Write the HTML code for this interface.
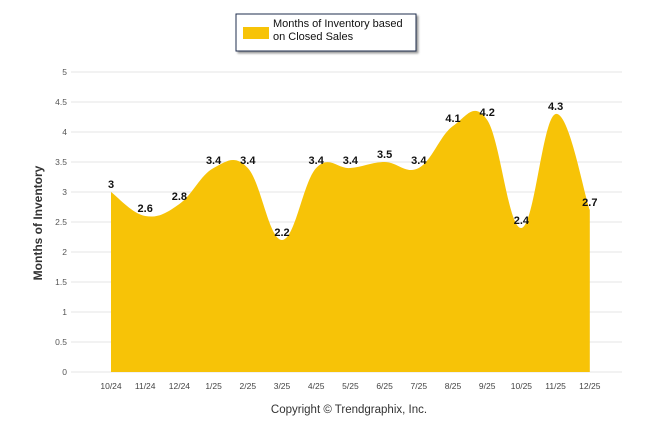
<!DOCTYPE html>
<html><head><meta charset="utf-8"><style>
body{margin:0;background:#fff;font-family:"Liberation Sans",Arial,sans-serif}
svg text{font-family:"Liberation Sans",Arial,sans-serif}
</style></head><body>
<svg id="c" width="646" height="434">
<rect x="236" y="14" width="180" height="37" fill="#fff" stroke="#1f2d4d" stroke-width="1" style="filter:drop-shadow(2px 2px 1px #999)"/>
<rect x="243" y="27" width="26" height="12" fill="#f7c307"/>
<text x="273" y="27" font-size="11" fill="#111">Months of Inventory based</text>
<text x="273" y="40" font-size="11" fill="#111">on Closed Sales</text>
<g id="grid"></g>
<path id="area" fill="#f7c307"/>
<g id="labels"></g>
<text transform="translate(42,223) rotate(-90)" text-anchor="middle" font-size="12" font-weight="bold" fill="#333">Months of Inventory</text>
<text x="349" y="413" text-anchor="middle" font-size="11.5" fill="#333">Copyright © Trendgraphix, Inc.</text>
</svg>
<script>
const categories=["10/24","11/24","12/24","1/25","2/25","3/25","4/25","5/25","6/25","7/25","8/25","9/25","10/25","11/25","12/25"];
const values=[3,2.6,2.8,3.4,3.4,2.2,3.4,3.4,3.5,3.4,4.1,4.2,2.4,4.3,2.7];
const yTicks=[0,0.5,1,1.5,2,2.5,3,3.5,4,4.5,5];
const NS="http://www.w3.org/2000/svg";
const x=i=>111+i*34.2, y=v=>372-v*60;
const grid=document.getElementById('grid'), lab=document.getElementById('labels');
function mk(t,a,p){const e=document.createElementNS(NS,t);for(const k in a)e.setAttribute(k,a[k]);p.appendChild(e);return e;}
yTicks.forEach(v=>{
 const l=mk('line',{x1:71,x2:622,y1:y(v),y2:y(v),stroke:'#e6e6e6'},grid);
 
 
 const t=mk('text',{x:67,y:y(v)+3,'text-anchor':'end','font-size':8.5,fill:'#555'},grid);t.textContent=v;
 
 
});
categories.forEach((c,i)=>{
 const t=mk('text',{x:x(i),y:389,'text-anchor':'middle','font-size':8.5,fill:'#444'},grid);t.textContent=c;
 
 
});
const P=values.map((v,i)=>[x(i),y(v)]);
let d=`M${P[0][0]},${y(0)} L${P[0][0]},${P[0][1]}`;
for(let i=0;i<P.length-1;i++){
 const p0=P[Math.max(0,i-1)],p1=P[i],p2=P[i+1],p3=P[Math.min(P.length-1,i+2)];
 const k=1/6*1.15;
 const c1=[p1[0]+(p2[0]-p0[0])*k,p1[1]+(p2[1]-p0[1])*k];
 const c2=[p2[0]-(p3[0]-p1[0])*k,p2[1]-(p3[1]-p1[1])*k];
 d+=` C${c1[0]},${c1[1]} ${c2[0]},${c2[1]} ${p2[0]},${p2[1]}`;
}
d+=` L${P[P.length-1][0]},${y(0)} Z`;
document.getElementById('area').setAttribute('d',d);
values.forEach((v,i)=>{
 const t=mk('text',{x:x(i),y:y(v)-4,'text-anchor':'middle','font-size':11,'font-weight':'bold',fill:'#111'},lab);t.textContent=v;
 
 
});
</script>
</body></html>
